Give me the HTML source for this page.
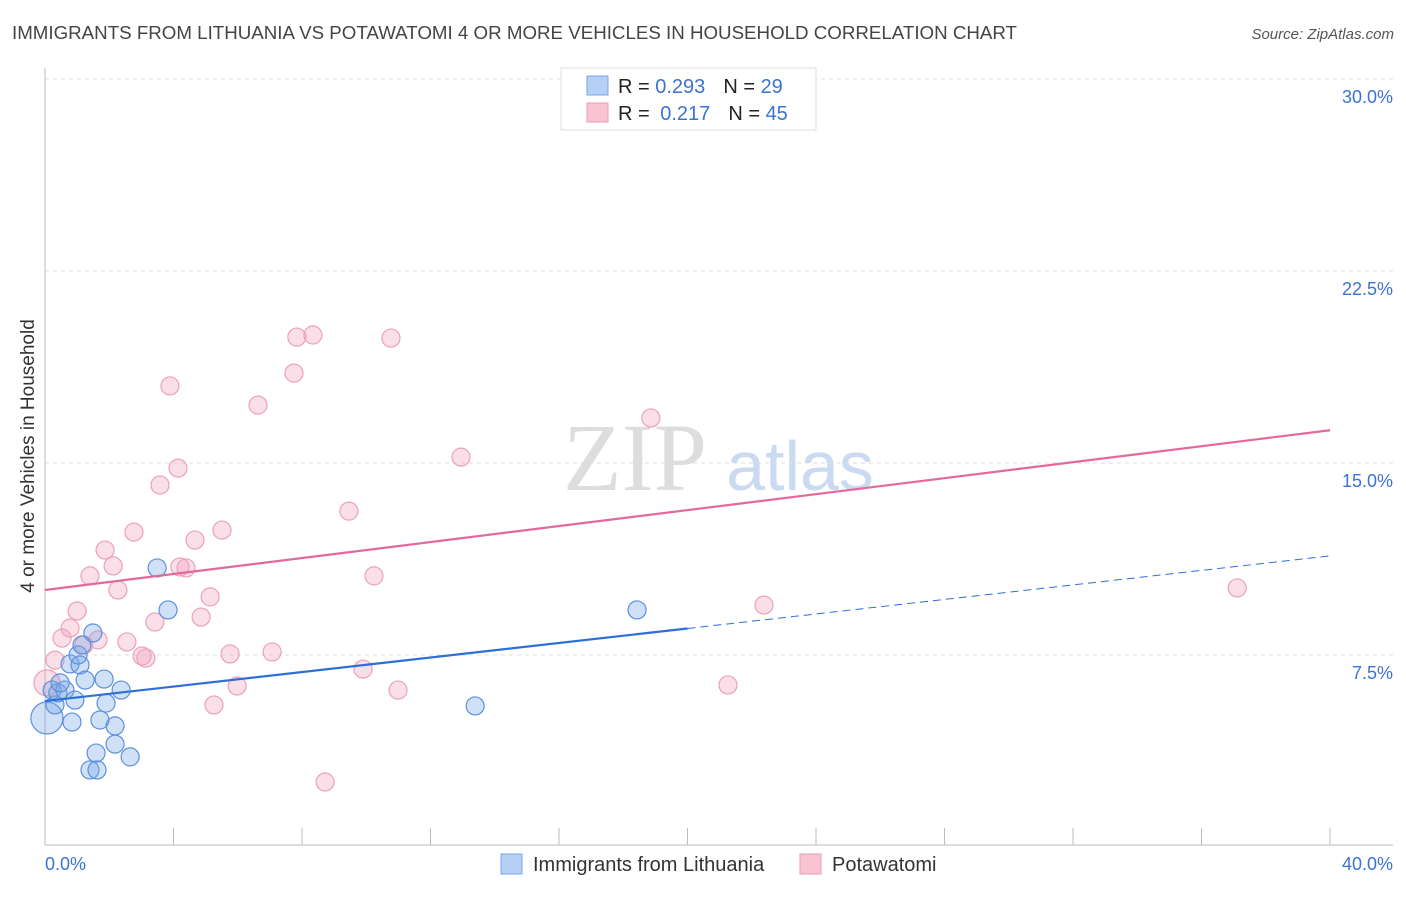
<!DOCTYPE html>
<html><head><meta charset="utf-8"><style>
body{margin:0;background:#fff;font-family:"Liberation Sans",sans-serif;}
</style></head><body>
<svg width="1406" height="892" xmlns="http://www.w3.org/2000/svg" font-family="Liberation Sans, sans-serif" id="chart">
<text x="12" y="39" font-size="18" fill="#444" textLength="1005" lengthAdjust="spacingAndGlyphs">IMMIGRANTS FROM LITHUANIA VS POTAWATOMI 4 OR MORE VEHICLES IN HOUSEHOLD CORRELATION CHART</text>
<text x="1394" y="39" font-size="15" fill="#555" font-style="italic" text-anchor="end">Source: ZipAtlas.com</text>
<text transform="translate(34,456) rotate(-90)" font-size="19" fill="#333" text-anchor="middle">4 or more Vehicles in Household</text>
<g>
<text x="635" y="490" font-size="96" fill="#ddd" font-family="Liberation Serif, serif" text-anchor="middle">ZIP</text>
<text x="800" y="490" font-size="70" fill="#c9daf2" text-anchor="middle">atlas</text>
</g>
<g id="grid"></g>
<line x1="45" y1="68" x2="45" y2="845" stroke="#bbb"/>
<line x1="45" y1="845" x2="1393" y2="845" stroke="#bbb"/>
<g id="ticks"></g>
<g id="marks"></g>
<text x="45" y="870" font-size="18" fill="#3b73d3">0.0%</text>
<text x="1393" y="870" font-size="18" fill="#3b73d3" text-anchor="end">40.0%</text>
<g>
<rect x="561" y="68" width="255" height="62" fill="#fff" stroke="#ddd"/>
<rect x="587" y="76" width="21" height="19" fill="#b6d0f5" stroke="#7aa6e6"/>
<rect x="587" y="103" width="21" height="19" fill="#f8c3d3" stroke="#eb9ab4"/>
<text x="618" y="93" font-size="20" fill="#222">R = <tspan fill="#3b73d3">0.293</tspan><tspan dx="18">N = </tspan><tspan fill="#3b73d3">29</tspan></text>
<text x="618" y="120" font-size="20" fill="#222">R = <tspan dx="5" fill="#3b73d3">0.217</tspan><tspan dx="18">N = </tspan><tspan fill="#3b73d3">45</tspan></text>
</g>
<g>
<rect x="501" y="854" width="21" height="20" fill="#b6d0f5" stroke="#7aa6e6"/>
<text x="533" y="871" font-size="20" fill="#333">Immigrants from Lithuania</text>
<rect x="800" y="854" width="21" height="20" fill="#f8c3d3" stroke="#eb9ab4"/>
<text x="832" y="871" font-size="20" fill="#333">Potawatomi</text>
</g>
</svg>
<script>
const yTicks=[7.5,15,22.5,30];
const yTickLabels=["7.5%","15.0%","22.5%","30.0%"];
const blueX=[0.06,0.22,0.31,0.40,0.62,0.78,0.84,0.93,1.09,1.03,1.25,1.49,1.15,1.71,1.84,1.90,2.18,2.18,2.37,1.59,1.40,1.62,2.65,3.49,3.83,18.43,13.39,0.47];
const blueY=[5.04,6.13,5.55,6.02,6.13,7.15,4.88,5.74,7.11,7.50,6.52,8.36,7.89,4.96,6.56,5.62,4.73,4.02,6.13,3.67,3.01,3.01,3.52,10.90,9.26,9.26,5.51,6.41];
const pinkX=[0.06,0.31,0.53,0.78,1.00,1.40,1.65,1.87,2.12,2.27,2.55,2.77,3.02,3.14,3.42,3.58,3.89,4.14,4.20,4.39,4.67,4.86,5.14,5.26,5.51,5.76,5.98,6.63,7.07,7.75,7.84,8.34,8.72,9.46,9.90,10.24,10.77,10.99,12.95,18.86,21.26,22.38,37.11,1.21];
const pinkY=[6.41,7.30,8.16,8.55,9.22,10.59,8.09,11.60,10.98,10.04,8.01,12.30,7.46,7.38,8.79,14.14,18.01,14.80,10.94,10.90,11.99,8.98,9.77,5.55,12.38,7.54,6.29,17.26,7.62,18.51,19.92,20.0,2.54,13.12,6.95,10.59,19.88,6.13,15.23,16.76,6.33,9.45,10.12,7.89];
const blueLine=[5.70,0.1418];
const pinkLine=[10.04,0.156];
const NS="http://www.w3.org/2000/svg";
const xs=v=>45+v/40*1285;
const ys=v=>847-v/7.5*192;
function mk(tag,attrs,parent){const e=document.createElementNS(NS,tag);for(const k in attrs)e.setAttribute(k,attrs[k]);parent.appendChild(e);return e;}
const grid=document.getElementById('grid'),ticks=document.getElementById('ticks'),marks=document.getElementById('marks');
yTicks.forEach((t,i)=>{
 const l=mk('line',{x1:45,x2:1393,y1:ys(t),y2:ys(t),stroke:'#ddd','stroke-dasharray':'4,4'},grid);
 
 
 const tx=mk('text',{x:1393,y:ys(t)+24,'font-size':18,fill:'#3b73d3','text-anchor':'end'},ticks);
 tx.textContent=yTickLabels[i];
 
 
});
for(let i=0;i<=10;i++){
 const l=mk('line',{x1:xs(i*4),x2:xs(i*4),y1:828,y2:845,stroke:'#bbb'},ticks);
 
 
}
function pts(X,Y,fill,stroke,name,big){X.forEach((x,i)=>{
 const c=mk('circle',{cx:xs(x),cy:ys(Y[i]),r:(i===0?big:9),fill:fill,stroke:stroke,'stroke-width':1.2},marks);
 
 
});}
pts(pinkX,pinkY,'rgba(242,160,188,0.35)','#eba1ba','potawatomi-point',13);
pts(blueX,blueY,'rgba(120,165,230,0.35)','#5d90db','lithuania-point',16);
let l=mk('line',{x1:xs(0),y1:ys(pinkLine[0]),x2:xs(40),y2:ys(pinkLine[0]+pinkLine[1]*40),stroke:'#e5689a','stroke-width':2.2},marks);


l=mk('line',{x1:xs(0),y1:ys(blueLine[0]),x2:xs(20),y2:ys(blueLine[0]+blueLine[1]*20),stroke:'#2d6fd6','stroke-width':2.2},marks);


l=mk('line',{x1:xs(20),y1:ys(blueLine[0]+blueLine[1]*20),x2:xs(40),y2:ys(blueLine[0]+blueLine[1]*40),stroke:'#2d6fd6','stroke-width':1,'stroke-dasharray':'8,5'},marks);


</script>
</body></html>
